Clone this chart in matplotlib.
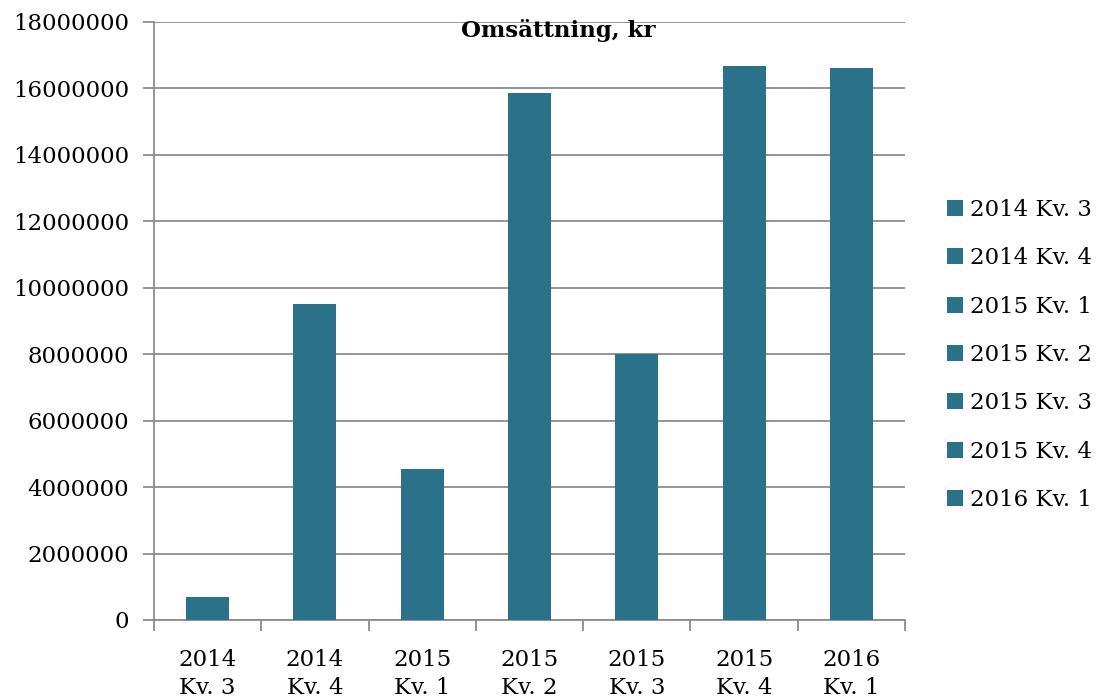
import matplotlib.pyplot as plt
from matplotlib.patches import Patch
from matplotlib.ticker import MultipleLocator, FixedLocator

# Data
kvartal = ["2014 Kv. 3", "2014 Kv. 4", "2015 Kv. 1", "2015 Kv. 2",
           "2015 Kv. 3", "2015 Kv. 4", "2016 Kv. 1"]
omsattning = [680000, 9500000, 4560000, 15850000, 8020000, 16680000, 16620000]

bar_color = "#2a7189"
grid_color = "#8c8c8c"

plt.rcParams["font.family"] = ["DejaVu Serif"]

fig = plt.figure(figsize=(11, 6.97), dpi=100)
ax = fig.add_axes([154 / 1100, 1 - 620 / 697, (905 - 154) / 1100, (620 - 22) / 697])

x = list(range(len(kvartal)))
ax.bar(x, omsattning, width=0.4, color=bar_color, zorder=3)

ax.set_xlim(-0.5, len(kvartal) - 0.5)
ax.set_ylim(0, 18000000)
ax.yaxis.set_major_locator(MultipleLocator(2000000))
ax.yaxis.set_major_formatter(plt.FuncFormatter(lambda v, p: f"{int(v)}"))
ax.grid(axis="y", color=grid_color, linewidth=1.3, zorder=0)

ax.set_xticks(x)
ax.set_xticklabels([k.replace(" Kv", "\nKv") for k in kvartal], linespacing=1.35)
ax.xaxis.set_minor_locator(FixedLocator([i - 0.5 for i in range(len(kvartal) + 1)]))
ax.tick_params(axis="x", which="major", length=0, pad=21, labelsize=16.5)
ax.tick_params(axis="x", which="minor", length=8, width=1.3, color=grid_color)
ax.tick_params(axis="y", length=8, width=1.3, color=grid_color, labelsize=16.5, pad=10)

for s in ["top", "right"]:
    ax.spines[s].set_visible(False)
for s in ["left", "bottom"]:
    ax.spines[s].set_color(grid_color)
    ax.spines[s].set_linewidth(1.3)

fig.text(558 / 1100, 1 - 30 / 697, "Omsättning, kr", ha="center", va="center",
         fontsize=16.5, fontweight="bold")

handles = [Patch(facecolor=bar_color, label=k) for k in kvartal]
fig.legend(handles=handles, loc="center left", bbox_to_anchor=(938 / 1100, 1 - 355 / 697),
           frameon=False, fontsize=16.5, handlelength=0.7, handleheight=0.7,
           handletextpad=0.3, labelspacing=1.15, borderaxespad=0)

fig.savefig("out.png", dpi=100)
